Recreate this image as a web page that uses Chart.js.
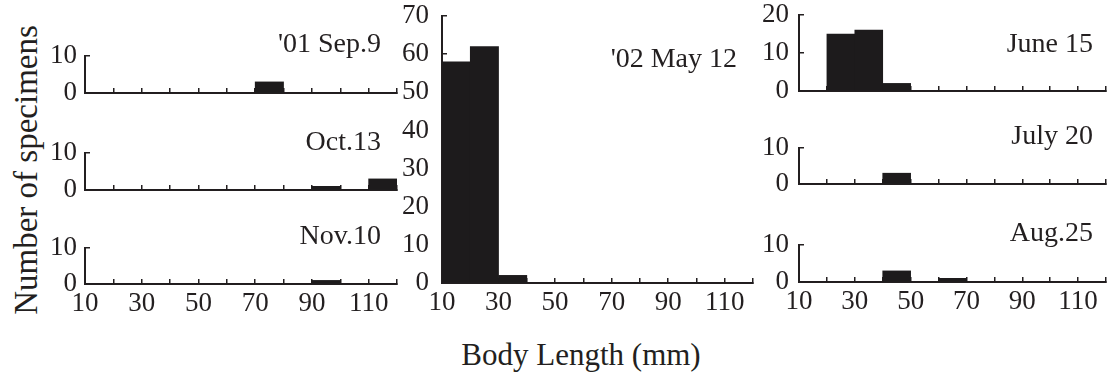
<!DOCTYPE html>
<html>
<head>
<meta charset="utf-8">
<script src="https://cdn.jsdelivr.net/npm/chart.js@4.4.0/dist/chart.umd.min.js"></script>
<style>
  body { margin: 0; background: #fff; }
  #fig { position: relative; width: 1108px; height: 374px; background: #fff; overflow: hidden;
         font-family: "Liberation Serif", serif; color: #231f20; }
  #fig canvas { position: absolute; }
  .ytitle { position: absolute; left: 26px; top: 170px; transform: translate(-50%, -50%) rotate(-90deg);
            font-size: 33px; white-space: nowrap; line-height: 1; }
  .xtitle { position: absolute; left: 581px; top: 354px; transform: translate(-50%, -50%);
            font-size: 31px; white-space: nowrap; line-height: 1; }
</style>
</head>
<body>
<div id="fig">
  <div class="ytitle">Number of specimens</div>
  <div class="xtitle">Body Length (mm)</div>
</div>
<script>
// body length bins, 10 mm wide from 10 to 120 (centres)
const binMid = [15, 25, 35, 45, 55, 65, 75, 85, 95, 105, 115];
const xTickLabels = [10, 30, 50, 70, 90, 110];

// number of specimens per bin for each sampling date
const sep9  = [0, 0, 0, 0, 0, 0, 3, 0, 0, 0, 0];
const oct13 = [0, 0, 0, 0, 0, 0, 0, 0, 1, 0, 3];
const nov10 = [0, 0, 0, 0, 0, 0, 0, 0, 1, 0, 0];
const may12 = [58, 62, 2, 0, 0, 0, 0, 0, 0, 0, 0];
const jun15 = [0, 15, 16, 2, 0, 0, 0, 0, 0, 0, 0];
const jul20 = [0, 0, 0, 3, 0, 0, 0, 0, 0, 0, 0];
const aug25 = [0, 0, 0, 3, 0, 1, 0, 0, 0, 0, 0];

const ink = '#231f20';
const fam = '"Liberation Serif", serif';

// layout: chart area [left, top, right, bottom] in page px, title offset from area right/top
const panels = [
  { title: "'01 Sep.9",  data: sep9,  yMax: 10, area: [85, 56, 397, 93],     at: [-16, -11], xl: false, gap: 8 },
  { title: 'Oct.13',     data: oct13, yMax: 10, area: [85, 153, 397, 190],   at: [-16, -10], xl: false, gap: 8 },
  { title: 'Nov.10',     data: nov10, yMax: 10, area: [85, 248, 397, 284],   at: [-16, -11], xl: true,  gap: 8 },
  { title: "'02 May 12", data: may12, yMax: 70, area: [442, 16, 753, 283],   at: [-16, 44],  xl: true,  gap: 13 },
  { title: 'June 15',    data: jun15, yMax: 20, area: [799, 15, 1106, 91],   at: [-13, 30],  xl: false, gap: 10 },
  { title: 'July 20',    data: jul20, yMax: 10, area: [799, 148, 1106, 184], at: [-13, -11], xl: false, gap: 10 },
  { title: 'Aug.25',     data: aug25, yMax: 10, area: [799, 245, 1106, 282], at: [-13, -11], xl: true,  gap: 10 }
];

const panelTitle = {
  id: 'panelTitle',
  afterDraw(chart, args, opts) {
    const { ctx, chartArea } = chart;
    ctx.save();
    ctx.font = '28px ' + fam;
    ctx.fillStyle = ink;
    ctx.textAlign = 'right';
    ctx.textBaseline = 'middle';
    ctx.fillText(opts.text, chartArea.right + opts.dx, chartArea.top + opts.dy);
    ctx.restore();
  }
};

const fig = document.getElementById('fig');
const yW = 60, padT = 32, padR = 6;

panels.forEach(p => {
  const xH = p.xl ? 36 : 8;
  const left = p.area[0] - yW, top = p.area[1] - padT;
  const W = p.area[2] + padR - left, H = p.area[3] + xH - top;
  const cv = document.createElement('canvas');
  cv.width = W; cv.height = H;
  cv.style.left = left + 'px'; cv.style.top = top + 'px';
  cv.style.width = W + 'px'; cv.style.height = H + 'px';
  fig.appendChild(cv);

  new Chart(cv, {
    type: 'bar',
    data: {
      datasets: [{
        data: binMid.map((m, i) => ({ x: m, y: p.data[i] })),
        backgroundColor: '#1d1b1c',
        borderWidth: 0,
        categoryPercentage: 1,
        barPercentage: 1
      }]
    },
    options: {
      responsive: false,
      animation: false,
      devicePixelRatio: 1,
      layout: { padding: { top: padT, right: padR, left: 0, bottom: 0 } },
      plugins: {
        legend: { display: false },
        tooltip: { enabled: false },
        panelTitle: { text: p.title, dx: p.at[0], dy: p.at[1] }
      },
      scales: {
        x: {
          type: 'linear', min: 10, max: 120, offset: false,
          ticks: {
            stepSize: 10, autoSkip: false, maxRotation: 0, display: p.xl,
            padding: 9, color: ink, font: { family: fam, size: 27 },
            callback: v => xTickLabels.includes(v) ? String(v) : ''
          },
          grid: { drawOnChartArea: false, offset: false, color: ink, lineWidth: 1.5, tickLength: -5 },
          border: { color: ink, width: 2 },
          afterFit: s => { s.height = xH; s.paddingLeft = 0; s.paddingRight = 0; }
        },
        y: {
          min: 0, max: p.yMax,
          ticks: { stepSize: 10, padding: p.gap + 5, color: ink, font: { family: fam, size: 27 } },
          grid: { drawOnChartArea: false, color: ink, lineWidth: 1.5, tickLength: -5 },
          border: { color: ink, width: 2 },
          afterFit: s => { s.width = yW; s.paddingTop = 0; s.paddingBottom = 0; }
        }
      }
    },
    plugins: [panelTitle]
  });
});
</script>
</body>
</html>
